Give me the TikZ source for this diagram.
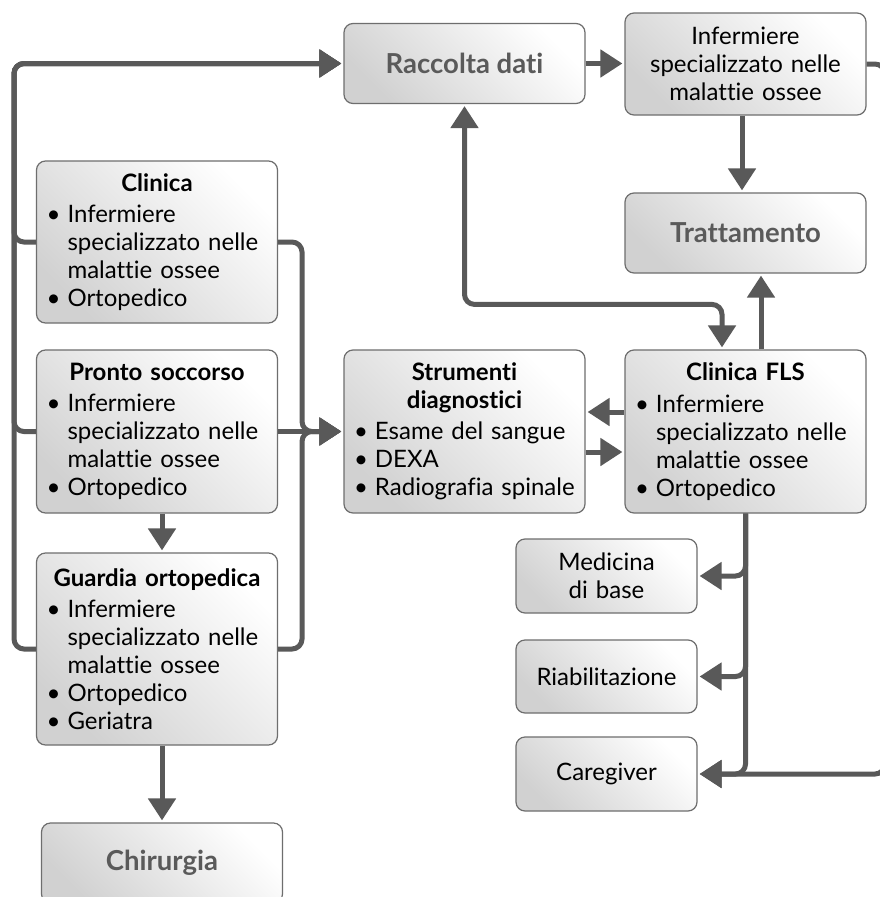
\documentclass[tikz,border=0pt]{standalone}
\usepackage{fontspec}
\setmainfont{Lato}[Ligatures={NoCommon}]
\usetikzlibrary{arrows.meta}
\definecolor{lncol}{HTML}{595959}
\definecolor{bord}{HTML}{6E6E6E}
\definecolor{ttl}{HTML}{5A5A5A}
\newcommand{\hd}[1]{\makebox[\linewidth]{\bfseries #1}\par}
\newcommand{\bl}[1]{\noindent\makebox[21pt][l]{\textbullet}\mbox{#1}\par}
\newcommand{\cl}[1]{\noindent\hspace*{21pt}\mbox{#1}\par}
\newcommand{\gap}{\vspace{3.5pt}}
\begin{document}
\begin{tikzpicture}[x=1pt,y=-1pt,
  box/.style={draw=bord, line width=1.2pt, rounded corners=9pt, top color=white, bottom color=black!18, shading angle=-45, inner xsep=10pt, inner ysep=0pt, font=\fontsize{24}{28}\selectfont},
  listbox/.style={box, text width=221pt, align=left},
  tbox/.style={box, minimum width=241pt, minimum height=80pt, font=\fontsize{27.5}{30}\selectfont\bfseries, text=ttl},
  conn/.style={draw=lncol, line width=5pt, rounded corners=10pt},
  arr/.style={conn, -{Triangle[length=22pt,width=27pt]}, shorten >=2pt},
  darr/.style={conn, {Triangle[length=22pt,width=27pt]}-{Triangle[length=22pt,width=27pt]}, shorten >=2pt, shorten <=2pt},
  ]
\useasboundingbox (0,0) rectangle (880,897);
\clip (0,0) rectangle (880,897);
\fill[white] (0,0) rectangle (880,897);

\node[tbox] (rac) at (464.5,63.5) {Raccolta dati};
\node[box, text width=221pt, align=center, minimum height=102pt] (inf) at (745.5,64) {Infermiere\\specializzato nelle\\malattie ossee};
\node[tbox] (tra) at (745.5,233) {Trattamento};
\node[listbox, minimum height=162pt] (cli) at (157,242) {\hd{Clinica}\gap\bl{Infermiere}\cl{specializzato nelle}\cl{malattie ossee}\bl{Ortopedico}};
\node[listbox, minimum height=163pt] (pro) at (157,431.5) {\hd{Pronto soccorso}\gap\bl{Infermiere}\cl{specializzato nelle}\cl{malattie ossee}\bl{Ortopedico}};
\node[listbox, minimum height=192pt] (gua) at (157,649) {\hd{Guardia ortopedica}\gap\bl{Infermiere}\cl{specializzato nelle}\cl{malattie ossee}\bl{Ortopedico}\bl{Geriatra}};
\node[tbox] (chi) at (162,863) {Chirurgia};
\node[listbox, minimum height=163pt] (str) at (464.5,431.5) {\hd{Strumenti}\hd{diagnostici}\gap\bl{Esame del sangue}\bl{DEXA}\bl{Radiografia spinale}};
\node[listbox, minimum height=163pt] (fls) at (745.5,431.5) {\hd{Clinica FLS}\gap\bl{Infermiere}\cl{specializzato nelle}\cl{malattie ossee}\bl{Ortopedico}};
\node[box, text width=161pt, align=center, minimum height=74pt] (med) at (606.5,576) {Medicina\\di base};
\node[box, text width=161pt, align=center, minimum height=73pt] (ria) at (606.5,676.5) {Riabilitazione};
\node[box, text width=161pt, align=center, minimum height=74pt] (car) at (606.5,774) {Caregiver};

\coordinate (busL) at (14,0);
\coordinate (busR) at (302,0);
\coordinate (busRR) at (885,0);

% left bus to Raccolta dati
\draw[arr] (cli.west) -- (cli.west -| busL) |- (rac.west);
\draw[arr] (pro.west) -- (pro.west -| busL) |- (rac.west);
\draw[arr] (gua.west) -- (gua.west -| busL) |- (rac.west);

% right bus to Strumenti
\draw[arr] (cli.east) -- (cli.east -| busR) |- (str.west);
\draw[arr] (gua.east) -- (gua.east -| busR) |- (str.west);
\draw[arr] (pro.east) -- (str.west);

% vertical chain on left
\draw[arr] ([xshift=5pt]pro.south) -- ([xshift=5pt]gua.north);
\draw[arr] ([xshift=5pt]gua.south) -- (chi.north);

% top
\draw[arr] (rac.east) -- (rac.east -| inf.west);
\draw[arr] ([xshift=-3.5pt]inf.south) -- ([xshift=-3.5pt]tra.north);
\draw[arr] (inf.east) -- (inf.east -| busRR) |- (car.east);

% Raccolta <-> Clinica FLS
\draw[darr] (rac.south) |- ([xshift=-23.5pt,yshift=45pt]fls.north) -- ([xshift=-23.5pt]fls.north);
% Clinica FLS -> Trattamento
\draw[arr] ([xshift=15.5pt]fls.north) -- ([xshift=15.5pt]tra.south);
% Clinica FLS <-> Strumenti
\draw[arr] ([yshift=19.5pt]fls.west) -- ([yshift=19.5pt]str.east);
\draw[arr] ([yshift=-20.5pt]str.east) -- ([yshift=-20.5pt]fls.west);

% Clinica FLS bus
\draw[arr] (fls.south) |- (med.east);
\draw[arr] (fls.south) |- (ria.east);
\draw[arr] (fls.south) |- (car.east);
\end{tikzpicture}
\end{document}
